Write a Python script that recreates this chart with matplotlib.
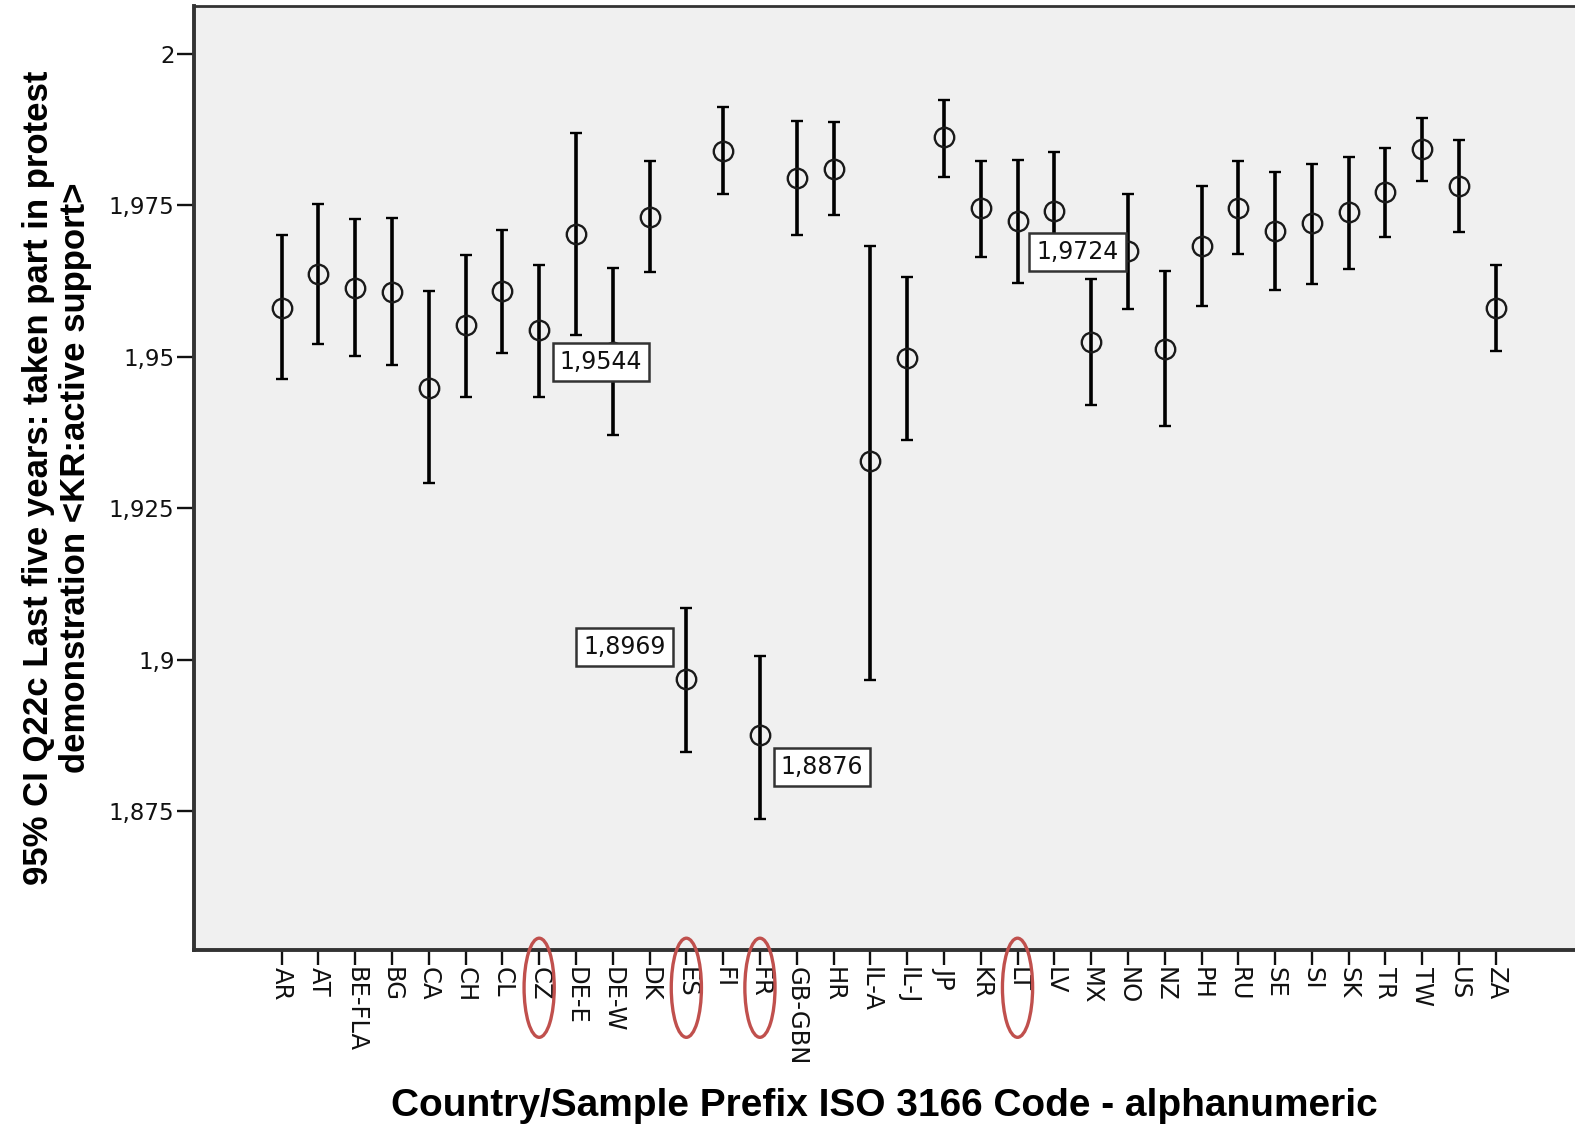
#!/usr/bin/env python3
"""
SPSS-style error bar chart: 95% CI of Q22c (taken part in protest
demonstration) by country/sample prefix.
Saves out.png.
"""
import matplotlib
matplotlib.use("Agg")
import matplotlib.pyplot as plt
from matplotlib.patches import Ellipse
from matplotlib.ticker import FuncFormatter
from matplotlib import transforms

countries = ["AR", "AT", "BE-FLA", "BG", "CA", "CH", "CL", "CZ", "DE-E", "DE-W",
             "DK", "ES", "FI", "FR", "GB-GBN", "HR", "IL-A", "IL-J", "JP", "KR",
             "LT", "LV", "MX", "NO", "NZ", "PH", "RU", "SE", "SI", "SK",
             "TR", "TW", "US", "ZA"]

means = [1.9581, 1.9636, 1.9613, 1.9607, 1.9449, 1.9552, 1.9608, 1.9544, 1.9703, 1.9508,
         1.9731, 1.8969, 1.9840, 1.8876, 1.9795, 1.9810, 1.9328, 1.9497, 1.9862, 1.9745,
         1.9724, 1.9740, 1.9525, 1.9675, 1.9513, 1.9683, 1.9746, 1.9708, 1.9720, 1.9738,
         1.9771, 1.9842, 1.9782, 1.9581]

lower = [1.9463, 1.9521, 1.9501, 1.9486, 1.9291, 1.9434, 1.9506, 1.9434, 1.9536, 1.9371,
         1.9640, 1.8848, 1.9768, 1.8738, 1.9701, 1.9733, 1.8966, 1.9362, 1.9797, 1.9665,
         1.9621, 1.9643, 1.9420, 1.9578, 1.9386, 1.9584, 1.9669, 1.9610, 1.9620, 1.9645,
         1.9698, 1.9789, 1.9706, 1.9510]

upper = [1.9700, 1.9752, 1.9727, 1.9729, 1.9608, 1.9668, 1.9709, 1.9652, 1.9869, 1.9646,
         1.9822, 1.9085, 1.9911, 1.9007, 1.9888, 1.9887, 1.9683, 1.9632, 1.9924, 1.9822,
         1.9825, 1.9837, 1.9628, 1.9769, 1.9641, 1.9782, 1.9822, 1.9804, 1.9818, 1.9830,
         1.9844, 1.9893, 1.9858, 1.9651]

y_ticks = [1.875, 1.9, 1.925, 1.95, 1.975, 2.0]

# points with a value label, and offset of the label box centre (pixels)
labelled = {"CZ": (62, -32), "ES": (-62, 32), "FR": (62, -32), "LT": (60, -31)}
# tick labels circled in red
circled = ["CZ", "ES", "FR", "LT"]

y_title = "95% CI Q22c Last five years: taken part in protest\ndemonstration <KR:active support>"
x_title = "Country/Sample Prefix ISO 3166 Code - alphanumeric"


def fmt_comma(v, pos=None):
    s = f"{v:.3f}".rstrip("0").rstrip(".")
    return s.replace(".", ",")


def main():
    fig = plt.figure(figsize=(15.75, 11.25), dpi=100)
    fig.patch.set_facecolor("white")
    ax = fig.add_axes([194 / 1575, 175 / 1125, 1381 / 1575, 944 / 1125])
    ax.set_facecolor("#f0f0f0")

    x = list(range(len(countries)))
    err_lo = [m - lo for m, lo in zip(means, lower)]
    err_hi = [hi - m for m, hi in zip(means, upper)]

    ax.errorbar(x, means, yerr=[err_lo, err_hi], fmt="o", color="black",
                ecolor="black", elinewidth=2.6, capsize=4.3, capthick=2.6,
                markersize=14, markerfacecolor="none", markeredgecolor="#1a1a1a",
                markeredgewidth=1.7, zorder=3)

    for c, (dx, dy) in labelled.items():
        i = countries.index(c)
        ax.annotate(f"{means[i]:.4f}".replace(".", ","),
                    xy=(i, means[i]), xytext=(dx, dy), textcoords="offset pixels",
                    ha="center", va="center", fontsize=17, color="#111111",
                    bbox=dict(boxstyle="square,pad=0.3", fc="white", ec="#333333", lw=1.8),
                    zorder=5)

    ax.set_xlim(-2.38, 35.15)
    ax.set_ylim(1.85214, 2.00784)
    ax.set_xticks(x)
    ax.set_xticklabels(countries, rotation=-90, fontsize=17.5, color="#111111")
    ax.set_yticks(y_ticks)
    ax.yaxis.set_major_formatter(FuncFormatter(fmt_comma))
    ax.tick_params(axis="y", labelsize=16.5, length=12, width=1.7, pad=2, colors="#111111")
    ax.tick_params(axis="x", length=11, width=1.7, pad=1, colors="#111111")

    for side in ["left", "bottom", "top"]:
        ax.spines[side].set_color("#333333")
        ax.spines[side].set_linewidth(2.8)
    ax.spines["top"].set_linewidth(2.0)
    ax.spines["right"].set_visible(False)

    ax.set_ylabel(y_title, fontsize=25, fontweight="bold", family="Liberation Sans",
                  linespacing=1.15)
    ax.yaxis.label.set_verticalalignment("center")
    ax.yaxis.set_label_coords(-0.0995, 0.5)
    ax.set_xlabel(x_title, fontsize=28, fontweight="bold", family="Liberation Sans")
    ax.xaxis.label.set_verticalalignment("center")
    ax.xaxis.set_label_coords(0.5, -0.165)

    # red ellipses round some tick labels
    trans = transforms.blended_transform_factory(ax.transData, ax.transAxes)
    for c in circled:
        i = countries.index(c)
        ax.add_patch(Ellipse((i, -0.040), width=0.82, height=0.105, transform=trans,
                             fill=False, ec="#c0504d", lw=2.4, clip_on=False, zorder=6))

    fig.savefig("out.png", dpi=100)
    plt.close(fig)


if __name__ == "__main__":
    main()
